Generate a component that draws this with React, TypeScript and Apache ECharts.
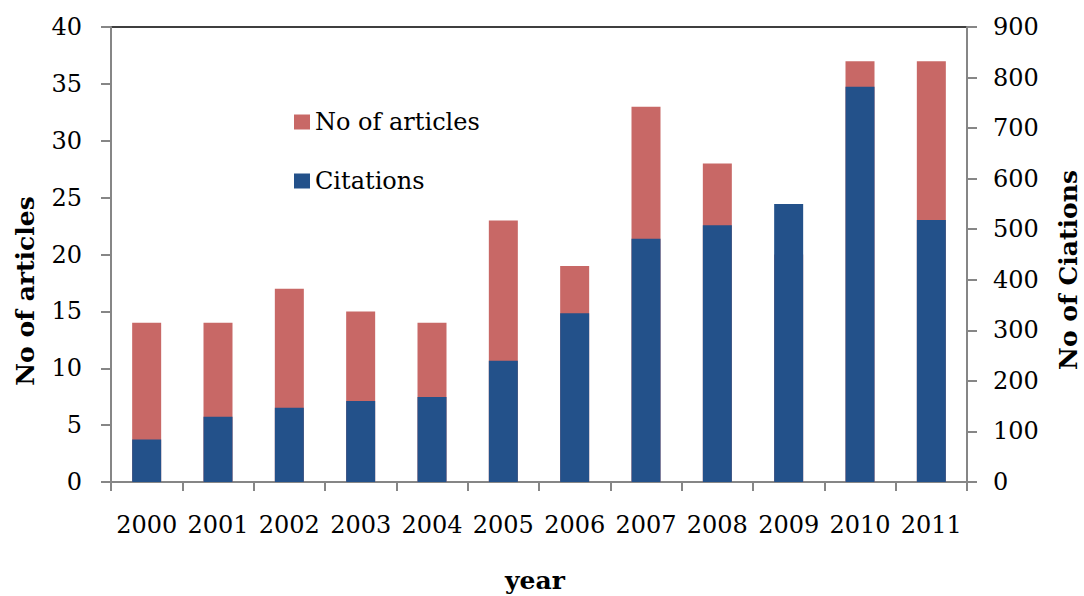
import React, { useEffect, useRef } from "react";
import * as echarts from "echarts";

const years = ["2000", "2001", "2002", "2003", "2004", "2005", "2006", "2007", "2008", "2009", "2010", "2011"];
const articles = [14, 14, 17, 15, 14, 23, 19, 33, 28, 20, 37, 37];
const citations = [84, 129, 147, 160, 168, 240, 334, 481, 508, 550, 782, 518];

const RED = "#C86866";
const BLUE = "#23518A";
const AXIS = "#868686";
const FONT = "DejaVu Serif";

export default function App() {
  const ref = useRef<HTMLDivElement>(null);
  useEffect(() => {
    if (!ref.current) return;
    const chart = echarts.init(ref.current, undefined, { renderer: "svg" });
    chart.setOption({
      animation: false,
      backgroundColor: "#fff",
      textStyle: { fontFamily: FONT },
      grid: {
        left: 111,
        right: 117,
        top: 27,
        bottom: 114,
        show: true,
        borderColor: "#000",
        borderWidth: 1.5,
        backgroundColor: "transparent",
      },
      legend: {
        orient: "vertical",
        left: 289,
        top: 105,
        itemWidth: 16,
        itemHeight: 15,
        itemGap: 35,
        icon: "rect",
        textStyle: { fontFamily: FONT, fontSize: 24, color: "#000", padding: [0, 0, 0, 0] },
        data: ["No of articles", "Citations"],
      },
      xAxis: {
        type: "category",
        data: years,
        boundaryGap: true,
        axisLine: { lineStyle: { color: AXIS, width: 2 } },
        axisTick: { show: true, interval: 0, length: 9, lineStyle: { color: AXIS, width: 2 } },
        axisLabel: { interval: 0, margin: 31, color: "#000", fontFamily: FONT, fontSize: 24 },
      },
      yAxis: [
        {
          type: "value",
          min: 0,
          max: 40,
          interval: 5,
          position: "left",
          splitLine: { show: false },
          axisLine: { show: true, lineStyle: { color: AXIS, width: 2 } },
          axisTick: { show: true, length: 10, lineStyle: { color: AXIS, width: 2 } },
          axisLabel: { margin: 29, color: "#000", fontFamily: FONT, fontSize: 24 },
        },
        {
          type: "value",
          min: 0,
          max: 900,
          interval: 100,
          position: "right",
          splitLine: { show: false },
          axisLine: { show: true, lineStyle: { color: AXIS, width: 2 } },
          axisTick: { show: true, length: 10, lineStyle: { color: AXIS, width: 2 } },
          axisLabel: { margin: 26, color: "#000", fontFamily: FONT, fontSize: 24 },
        },
      ],
      series: [
        {
          name: "No of articles",
          type: "bar",
          yAxisIndex: 0,
          data: articles,
          barWidth: 29,
          barGap: "-100%",
          itemStyle: { color: RED },
        },
        {
          name: "Citations",
          type: "bar",
          yAxisIndex: 1,
          data: citations,
          barWidth: 29,
          barGap: "-100%",
          itemStyle: { color: BLUE },
        },
      ],
      graphic: [
        {
          type: "text",
          x: 25,
          y: 291,
          rotation: Math.PI / 2,
          style: {
            text: "No of articles",
            fontFamily: FONT,
            fontWeight: "bold",
            fontSize: 25,
            fill: "#000",
            textAlign: "center",
            textVerticalAlign: "middle",
          },
        },
        {
          type: "text",
          x: 1068,
          y: 270,
          rotation: Math.PI / 2,
          style: {
            text: "No of Ciations",
            fontFamily: FONT,
            fontWeight: "bold",
            fontSize: 25,
            fill: "#000",
            textAlign: "center",
            textVerticalAlign: "middle",
          },
        },
        {
          type: "text",
          x: 535,
          y: 580,
          style: {
            text: "year",
            fontFamily: FONT,
            fontWeight: "bold",
            fontSize: 25,
            fill: "#000",
            textAlign: "center",
            textVerticalAlign: "middle",
          },
        },
      ],
    });
    return () => chart.dispose();
  }, []);
  return <div ref={ref} style={{ width: 1084, height: 596, position: "absolute", left: 0, top: 0 }} />;
}
